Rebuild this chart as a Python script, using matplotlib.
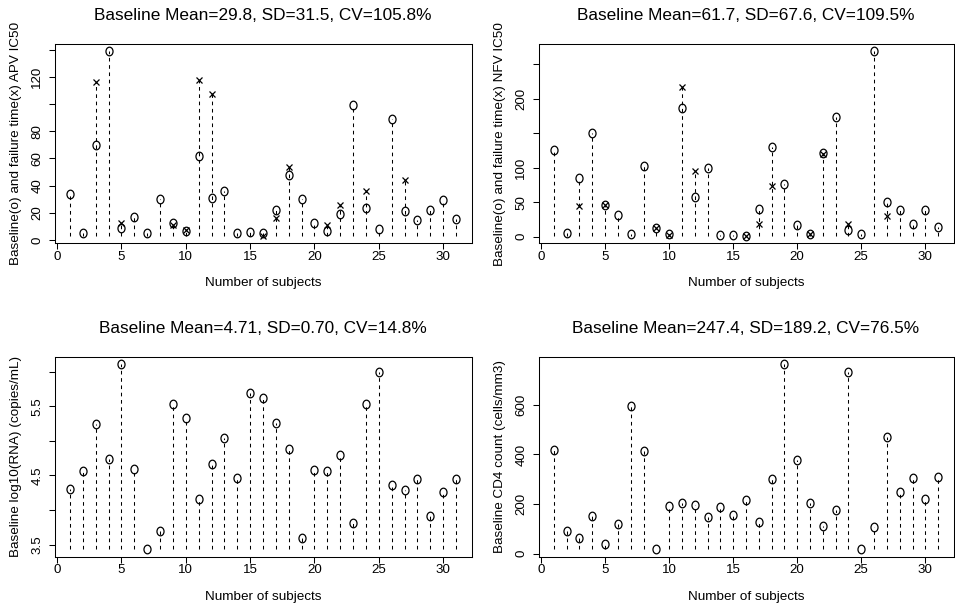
import numpy as np
import matplotlib
matplotlib.use("Agg")
import matplotlib.pyplot as plt
from matplotlib.path import Path
from matplotlib.transforms import Affine2D

plt.rcParams['font.family'] = ['Liberation Sans', 'DejaVu Sans']

subjects = list(range(1, 32))
fail_subjects = [3, 5, 9, 10, 11, 12, 16, 17, 18, 21, 22, 24, 27]

apv_base = [33.8, 4.9, 69.8, 138.8, 8.8, 16.7, 4.9, 29.9, 12.3, 6.4, 62.0, 30.9, 36.0, 5.4, 5.9, 4.9,
            22.0, 47.7, 30.1, 12.7, 6.9, 19.4, 99.1, 23.5, 8.1, 89.1, 21.3, 14.7, 22.3, 29.1, 15.4]
apv_fail = [116.3, 12.7, 10.8, 7.0, 118.0, 107.5, 3.0, 16.4, 53.4, 11.0, 25.5, 36.0, 44.3]

nfv_base = [125.6, 4.8, 84.5, 150.2, 46.4, 31.9, 3.9, 102.4, 13.0, 3.4, 187.0, 58.0, 100.0, 1.9, 2.9, 1.0,
            40.6, 130.4, 76.3, 16.4, 3.9, 121.7, 173.9, 9.7, 3.9, 269.0, 50.7, 38.2, 18.8, 39.1, 14.5]
nfv_fail = [44.4, 46.0, 12.0, 3.0, 216.9, 95.6, 1.0, 18.8, 73.4, 3.9, 119.3, 17.9, 29.5]

rna = [4.31, 4.56, 5.235, 4.73, 6.107, 4.589, 3.433, 3.697, 5.529, 5.326, 4.165, 4.671, 5.042, 4.468, 5.697, 5.62,
       5.259, 4.878, 3.592, 4.575, 4.56, 4.796, 3.818, 5.538, 5.986, 4.358, 4.29, 4.454, 3.91, 4.256, 4.454]

cd4 = [416.7, 91.7, 63.3, 152.4, 40.4, 120.0, 597.4, 415.3, 18.9, 192.8, 203.6, 195.5, 148.3, 188.8, 157.8, 214.4,
       129.4, 302.0, 764.6, 377.6, 202.3, 110.6, 176.6, 730.9, 17.5, 109.2, 469.3, 249.4, 304.8, 218.4, 308.8]

titles = ["Baseline Mean=29.8, SD=31.5, CV=105.8%",
          "Baseline Mean=61.7, SD=67.6, CV=109.5%",
          "Baseline Mean=4.71, SD=0.70, CV=14.8%",
          "Baseline Mean=247.4, SD=189.2, CV=76.5%"]
ylabels = ["Baseline(o) and failure time(x) APV IC50",
           "Baseline(o) and failure time(x) NFV IC50",
           "Baseline log10(RNA) (copies/mL)",
           "Baseline CD4 count (cells/mm3)"]
xlabel = "Number of subjects"
xticks = [0, 5, 10, 15, 20, 25, 30]
yticks = [[0, 20, 40, 60, 80, 100, 120, 140],
          [0, 50, 100, 150, 200, 250],
          [3.5, 4.0, 4.5, 5.0, 5.5, 6.0],
          [0, 200, 400, 600]]
yticklabels = [["0", "20", "40", "60", "80", "", "120", ""],
               ["0", "50", "100", "", "200", ""],
               ["3.5", "", "4.5", "", "5.5", ""],
               ["0", "200", "400", "600"]]

W, H = 955, 604
fig = plt.figure(figsize=(W / 100, H / 100), dpi=100)

# axes boxes in pixels: left, top, right, bottom
boxes = [(54.5, 44, 471.5, 243.3),
         (538.5, 44, 953.5, 243.3),
         (54.5, 356.7, 471.5, 556.7),
         (538.5, 356.7, 953.5, 556.7)]

circ = Path.unit_circle().transformed(Affine2D().scale(0.82, 1.0))

panels = [(apv_base, apv_fail), (nfv_base, nfv_fail), (rna, None), (cd4, None)]

for i, ((base, fail), (l, t, r, b)) in enumerate(zip(panels, boxes)):
    ax = fig.add_axes([l / W, 1 - b / H, (r - l) / W, (b - t) / H])
    base = np.array(base, dtype=float)
    allv = list(base)
    top = base.copy()
    fx = fv = None
    if fail is not None:
        fx = np.array(fail_subjects)
        fv = np.array(fail, dtype=float)
        allv += list(fv)
        for s, v in zip(fx, fv):
            top[s - 1] = max(top[s - 1], v)
    vmin, vmax = min(allv), max(allv)
    ax.vlines(subjects, vmin, top, colors='black', linewidth=0.75,
              linestyles=(0, (3.5, 3.5)), zorder=1)
    ax.plot(subjects, base, linestyle='none', marker=circ, markersize=6.2,
            markerfacecolor='none', markeredgecolor='black', markeredgewidth=0.9, zorder=3)
    if fail is not None:
        ax.plot(fx, fv, linestyle='none', marker='x', markersize=4.6,
                markeredgecolor='black', markeredgewidth=0.9, zorder=3)
    rng = vmax - vmin
    ax.set_ylim(vmin - 0.04 * rng, vmax + 0.04 * rng)
    ax.set_xlim(1 - 0.04 * 30, 31 + 0.04 * 30)
    ax.set_xticks(xticks)
    ax.set_xticklabels([str(v) for v in xticks])
    ax.set_yticks(yticks[i])
    ax.set_yticklabels(yticklabels[i])
    ax.tick_params(axis='both', direction='out', length=4, width=0.75, labelsize=9.6, color='black')
    ax.tick_params(axis='x', pad=1.5)
    ax.tick_params(axis='y', pad=4.0, labelrotation=90)
    for lab in ax.get_yticklabels():
        lab.set_va('center')
    for sp in ax.spines.values():
        sp.set_linewidth(0.75)
        sp.set_color('black')
    ax.text(0.5, 1 + 28.5 / (b - t), titles[i], transform=ax.transAxes,
            ha='center', va='center', fontsize=12.4)
    ax.set_xlabel(xlabel, fontsize=9.7, va='center')
    ax.xaxis.set_label_coords(0.5, -40.0 / (b - t))
    ax.set_ylabel(ylabels[i], fontsize=9.7, va='center')
    ax.yaxis.set_label_coords(-38.5 / (r - l), 0.5)

fig.savefig("out.png", dpi=100)
